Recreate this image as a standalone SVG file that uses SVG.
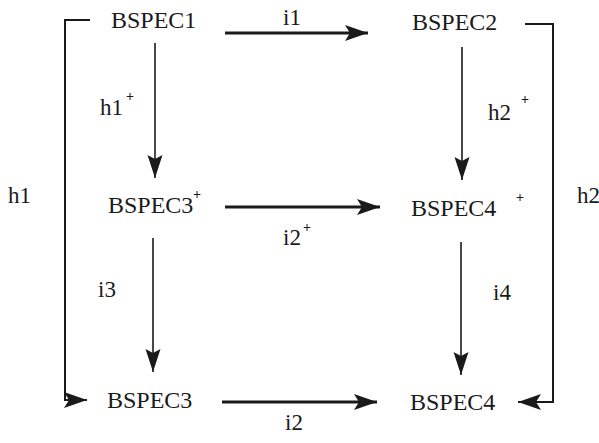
<svg xmlns="http://www.w3.org/2000/svg" width="599" height="443" viewBox="0 0 599 443">
<style>
text{font-family:'Liberation Serif','DejaVu Serif','Times New Roman',serif;font-size:23px;fill:#1a1a1a}
.node{font-size:24px}
.sup{font-size:14px;font-weight:bold}
.thick{stroke:#1a1a1a;stroke-width:3;fill:none}
.thin{stroke:#1a1a1a;stroke-width:1.6;fill:none}
.br{stroke:#1a1a1a;stroke-width:2;fill:none}
</style>
<defs>
<marker id="ah" markerUnits="userSpaceOnUse" markerWidth="24" markerHeight="16" refX="23" refY="8" orient="auto"><path d="M0,0 L23,8 L0,16 L5,8 Z" fill="#1a1a1a"/></marker>
<marker id="av" markerUnits="userSpaceOnUse" markerWidth="24" markerHeight="16" refX="23" refY="8" orient="auto"><path d="M0,0.5 L23,8 L0,15.5 L4,8 Z" fill="#1a1a1a"/></marker>
</defs>
<g id="connectors">
<line class="thick" x1="225" y1="33" x2="368" y2="33" marker-end="url(#ah)"/>
<line class="thick" x1="225" y1="207" x2="380" y2="207" marker-end="url(#ah)"/>
<line class="thick" x1="222" y1="402" x2="377" y2="402" marker-end="url(#ah)"/>
<line class="thin" x1="155" y1="43" x2="155" y2="178" marker-end="url(#av)"/>
<line class="thin" x1="462" y1="47" x2="462" y2="180" marker-end="url(#av)"/>
<line class="thin" x1="153" y1="238" x2="153" y2="372" marker-end="url(#av)"/>
<line class="thin" x1="461" y1="242" x2="461" y2="375" marker-end="url(#av)"/>
<path class="br" d="M90,20 H65 V400 H87" marker-end="url(#ah)"/>
<path class="br" d="M525,24 H553 V402 H518" marker-end="url(#ah)"/>
<g font-family="Liberation Serif, serif">
<text x="283" y="25">i1</text>
<text x="100" y="115">h1</text><text class="sup" x="126" y="101">+</text>
<text x="488" y="120">h2</text><text class="sup" x="521" y="104">+</text>
<text x="8" y="203">h1</text>
<text x="577" y="203">h2</text>
<text x="283" y="245">i2</text><text class="sup" x="303" y="232">+</text>
<text x="98" y="297">i3</text>
<text x="493" y="300">i4</text>
<text x="285" y="430">i2</text>
</g>
</g>
<g id="BSPEC1" font-family="Liberation Serif, serif"><text class="node" x="111" y="28">BSPEC1</text></g>
<g id="BSPEC2" font-family="Liberation Serif, serif"><text class="node" x="412" y="30">BSPEC2</text></g>
<g id="BSPEC3plus" font-family="Liberation Serif, serif"><text class="node" x="108" y="213">BSPEC3</text><text class="sup" x="193" y="199">+</text></g>
<g id="BSPEC4plus" font-family="Liberation Serif, serif"><text class="node" x="411" y="216">BSPEC4</text><text class="sup" x="516" y="202">+</text></g>
<g id="BSPEC3" font-family="Liberation Serif, serif"><text class="node" x="107" y="408">BSPEC3</text></g>
<g id="BSPEC4" font-family="Liberation Serif, serif"><text class="node" x="410" y="410">BSPEC4</text></g>
</svg>
